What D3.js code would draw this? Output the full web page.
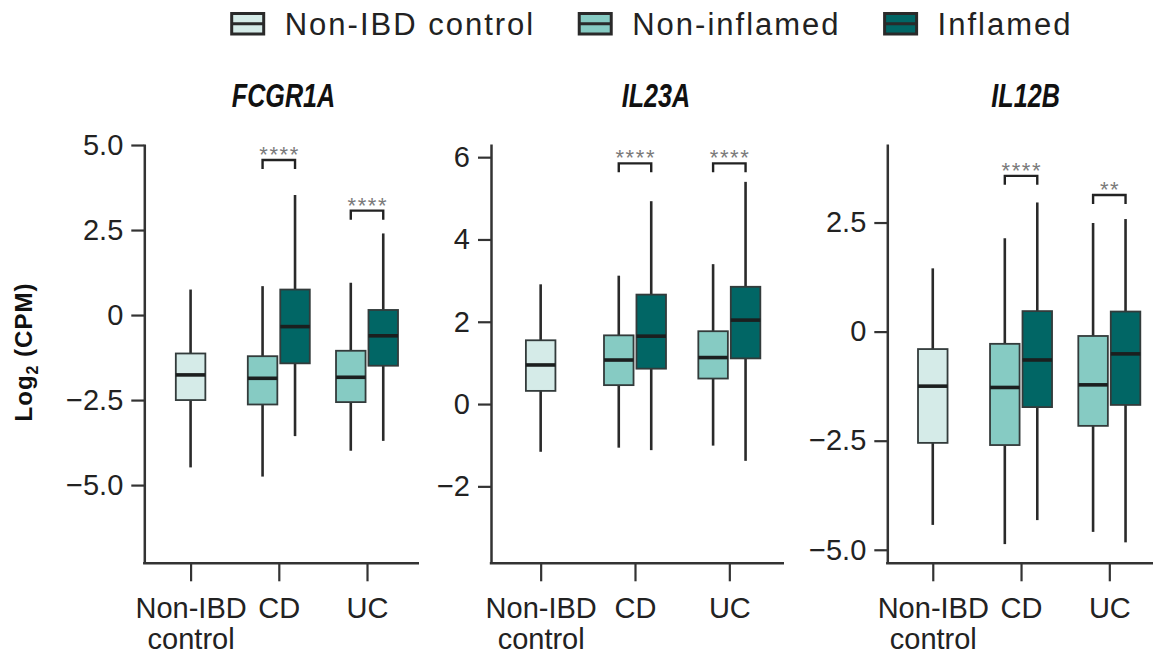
<!DOCTYPE html>
<html>
<head>
<meta charset="utf-8">
<script src="https://cdn.jsdelivr.net/npm/d3@7"></script>
<style>
  html, body { margin: 0; padding: 0; background: #ffffff; }
  svg { display: block; font-family: "Liberation Sans", Arial, Helvetica, sans-serif; }
</style>
</head>
<body>
<svg id="chart" width="1153" height="656"></svg>
<script>
// ---------------- DATA ----------------
const categories = ["Non-IBD control", "CD", "UC"];
const categoryLabelLines = [["Non-IBD", "control"], ["CD"], ["UC"]];
const groups = ["Non-IBD control", "Non-inflamed", "Inflamed"];
const groupColors = ["#d5ebe8", "#86cbc3", "#016665"];
const genes = ["FCGR1A", "IL23A", "IL12B"];

// each box: [category, group]
const boxCategory = ["Non-IBD control", "CD", "CD", "UC", "UC"];
const boxGroup = ["Non-IBD control", "Non-inflamed", "Inflamed", "Non-inflamed", "Inflamed"];

// five-number summaries: [lower whisker, Q1, median, Q3, upper whisker]
const fcgr1aStats = [
  [-4.48, -2.50, -1.76, -1.13, 0.75],
  [-4.75, -2.63, -1.86, -1.21, 0.85],
  [-3.56, -1.42, -0.34, 0.75, 3.53],
  [-3.99, -2.56, -1.83, -1.05, 0.95],
  [-3.70, -1.49, -0.61, 0.15, 2.40]
];
const il23aStats = [
  [-1.16, 0.32, 0.95, 1.55, 2.91],
  [-1.06, 0.46, 1.07, 1.67, 3.12],
  [-1.12, 0.86, 1.65, 2.66, 4.93],
  [-1.01, 0.62, 1.13, 1.77, 3.40],
  [-1.38, 1.11, 2.04, 2.85, 5.40]
];
const il12bStats = [
  [-4.43, -2.55, -1.25, -0.40, 1.45],
  [-4.87, -2.60, -1.28, -0.28, 2.14],
  [-4.32, -1.73, -0.65, 0.47, 2.96],
  [-4.59, -2.16, -1.22, -0.10, 2.49],
  [-4.83, -1.68, -0.51, 0.46, 2.58]
];

// significance brackets: category, label, bracket level (data units)
const fcgr1aSigCat = ["CD", "UC"];
const fcgr1aSigLabel = ["****", "****"];
const fcgr1aSigLevel = [4.56, 3.07];
const il23aSigCat = ["CD", "UC"];
const il23aSigLabel = ["****", "****"];
const il23aSigLevel = [5.85, 5.85];
const il12bSigCat = ["CD", "UC"];
const il12bSigLabel = ["****", "**"];
const il12bSigLevel = [3.57, 3.13];

// y axis domains and ticks
const fcgr1aDomain = [-7.30, 5.03];
const il23aDomain = [-3.87, 6.32];
const il12bDomain = [-5.31, 4.30];
const fcgr1aTicks = [-5, -2.5, 0, 2.5, 5];
const fcgr1aTickLabels = ["\u22125.0", "\u22122.5", "0", "2.5", "5.0"];
const il23aTicks = [-2, 0, 2, 4, 6];
const il23aTickLabels = ["\u22122", "0", "2", "4", "6"];
const il12bTicks = [-5, -2.5, 0, 2.5];
const il12bTickLabels = ["\u22125.0", "\u22122.5", "0", "2.5"];

const yAxisLabel = "Log";
const yAxisSub = "2";
const yAxisRest = " (CPM)";

// ---------------- LAYOUT ----------------
const svg = d3.select("#chart");
const plotTop = 144, plotBottom = 563.3;
const panels = [
  { gene: "FCGR1A", stats: fcgr1aStats, sigCat: fcgr1aSigCat, sigLabel: fcgr1aSigLabel, sigLevel: fcgr1aSigLevel,
    domain: fcgr1aDomain, ticks: fcgr1aTicks, tickLabels: fcgr1aTickLabels,
    left: 144.3, right: 419, pad: 0.557, align: 0.471, titleX: 283.5 },
  { gene: "IL23A", stats: il23aStats, sigCat: il23aSigCat, sigLabel: il23aSigLabel, sigLevel: il23aSigLevel,
    domain: il23aDomain, ticks: il23aTicks, tickLabels: il23aTickLabels,
    left: 491, right: 784, pad: 0.553, align: 0.476, titleX: 656 },
  { gene: "IL12B", stats: il12bStats, sigCat: il12bSigCat, sigLabel: il12bSigLabel, sigLevel: il12bSigLevel,
    domain: il12bDomain, ticks: il12bTicks, tickLabels: il12bTickLabels,
    left: 887.3, right: 1153, pad: 0.505, align: 0.51, titleX: 1025.6 }
];

const color = d3.scaleOrdinal().domain(groups).range(groupColors);
const dodge = d3.scaleBand().domain(["Non-inflamed", "Inflamed"]).range([-31, 31]).paddingInner(0.09);
const boxW = dodge.bandwidth();
const axisColor = "#333333";
const lineColor = "#2a2a2a";

panels.forEach(p => {
  const g = svg.append("g");
  const x = d3.scalePoint().domain(categories).range([p.left, p.right]).padding(p.pad).align(p.align);
  const y = d3.scaleLinear().domain(p.domain).range([plotBottom, plotTop]);

  const boxCenter = (i) => {
    const cx = x(boxCategory[i]);
    if (boxGroup[i] === "Non-IBD control") return cx;
    return cx + dodge(boxGroup[i]) + boxW / 2;
  };

  // y axis
  const ya = g.append("g").attr("transform", `translate(${p.left},0)`)
    .call(d3.axisLeft(y).tickValues(p.ticks).tickFormat((d, i) => p.tickLabels[i])
      .tickSize(13).tickSizeOuter(0).tickPadding(8));
  ya.select(".domain").attr("stroke", axisColor).attr("stroke-width", 2.5);
  ya.selectAll(".tick line").attr("stroke", axisColor).attr("stroke-width", 2.2);
  ya.selectAll(".tick text").attr("font-size", 29).attr("fill", "#222").attr("font-family", null);

  // x axis
  const xa = g.append("g").attr("transform", `translate(0,${plotBottom})`)
    .call(d3.axisBottom(x).tickSize(18).tickSizeOuter(0).tickFormat(""));
  xa.select(".domain").attr("stroke", axisColor).attr("stroke-width", 2.5)
    .attr("d", `M${p.left - 1.2},0H${p.right}`);
  xa.selectAll(".tick line").attr("stroke", axisColor).attr("stroke-width", 2.2);
  xa.selectAll(".tick").each(function (d, i) {
    const t = d3.select(this).append("text")
      .attr("fill", "#222").attr("font-size", 29).attr("text-anchor", "middle");
    categoryLabelLines[i].forEach((line, j) => {
      t.append("tspan").attr("x", 0).attr("y", 54.4 + j * 31.5).text(line);
    });
  });

  // boxes
  const boxes = g.append("g");
  p.stats.forEach((s, i) => {
    const cx = boxCenter(i);
    const [lo, q1, med, q3, hi] = s;
    const bg = boxes.append("g");
    bg.append("line").attr("x1", cx).attr("x2", cx).attr("y1", y(hi)).attr("y2", y(q3))
      .attr("stroke", lineColor).attr("stroke-width", 2.6);
    bg.append("line").attr("x1", cx).attr("x2", cx).attr("y1", y(q1)).attr("y2", y(lo))
      .attr("stroke", lineColor).attr("stroke-width", 2.6);
    bg.append("rect").attr("x", cx - boxW / 2).attr("width", boxW)
      .attr("y", y(q3)).attr("height", y(q1) - y(q3))
      .attr("fill", color(boxGroup[i])).attr("stroke", "#333b3b").attr("stroke-width", 1.8);
    bg.append("line").attr("x1", cx - boxW / 2).attr("x2", cx + boxW / 2)
      .attr("y1", y(med)).attr("y2", y(med))
      .attr("stroke", "#1b1f1f").attr("stroke-width", 3.6);
  });

  // significance brackets
  p.sigCat.forEach((cat, k) => {
    const iNon = boxCategory.findIndex((c, i) => c === cat && boxGroup[i] === "Non-inflamed");
    const iInf = boxCategory.findIndex((c, i) => c === cat && boxGroup[i] === "Inflamed");
    const x1 = boxCenter(iNon), x2 = boxCenter(iInf);
    const yy = y(p.sigLevel[k]);
    g.append("path")
      .attr("d", `M${x1},${yy + 9}V${yy}H${x2}V${yy + 9}`)
      .attr("fill", "none").attr("stroke", "#222").attr("stroke-width", 2.4);
    g.append("text").attr("x", (x1 + x2) / 2 + 0.8).attr("y", yy + 2)
      .attr("text-anchor", "middle").attr("font-size", 22).attr("letter-spacing", 1.6)
      .attr("fill", "#7a7a7a").text(p.sigLabel[k]);
  });

  // panel title
  svg.append("text")
    .attr("transform", `translate(${p.titleX},106.7) scale(0.74,1)`)
    .attr("text-anchor", "middle").attr("font-size", 34).attr("font-weight", "bold")
    .attr("font-style", "italic").attr("fill", "#111").text(p.gene);
});

// y axis label
const yl = svg.append("text")
  .attr("transform", "translate(32,352) rotate(-90)")
  .attr("text-anchor", "middle").attr("font-size", 24).attr("font-weight", "bold")
  .attr("letter-spacing", 1).attr("fill", "#111");
yl.append("tspan").text(yAxisLabel);
yl.append("tspan").attr("font-size", 16).attr("dy", 6).text(yAxisSub);
yl.append("tspan").attr("dy", -6).text(yAxisRest);

// legend
const legend = svg.append("g");
let lx = 231.7;
groups.forEach((grp, i) => {
  const item = legend.append("g");
  item.append("rect").attr("x", lx).attr("y", 13.5).attr("width", 32).attr("height", 20.5)
    .attr("fill", color(grp)).attr("stroke", "#2a2a2a").attr("stroke-width", 3);
  item.append("line").attr("x1", lx).attr("x2", lx + 32).attr("y1", 23.75).attr("y2", 23.75)
    .attr("stroke", "#2a2a2a").attr("stroke-width", 3);
  const t = item.append("text").attr("x", lx + 53).attr("y", 35)
    .attr("font-size", 31).attr("letter-spacing", 2).attr("fill", "#222").text(grp);
  const w = t.node().getComputedTextLength();
  lx = lx + 53 + w + 44;
});
</script>
</body>
</html>
